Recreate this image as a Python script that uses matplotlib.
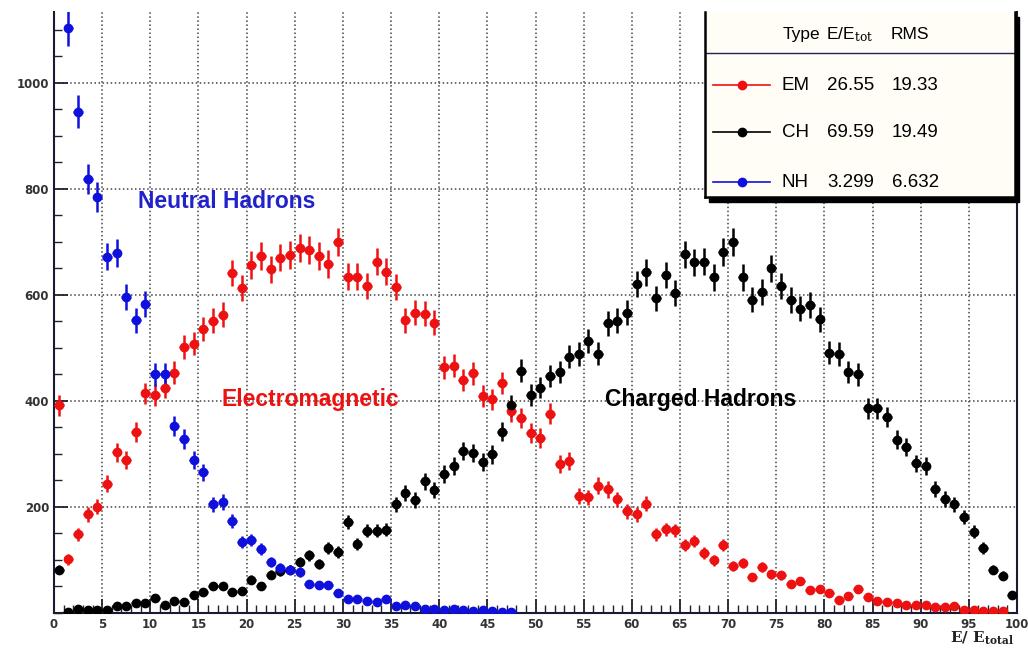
import numpy as np
import matplotlib
matplotlib.use("Agg")
import matplotlib.pyplot as plt
from matplotlib.patches import Rectangle

# energy fraction histograms, 100 bins of width 1 from 0 to 100
bin_width = 1.0

em_counts = [392, 101, 148, 186, 200, 244, 303, 289, 341, 414,
             411, 425, 453, 502, 508, 535, 551, 562, 641, 612,
             656, 673, 648, 670, 675, 688, 684, 673, 658, 700,
             634, 634, 616, 662, 643, 615, 552, 566, 564, 547,
             463, 466, 439, 452, 409, 403, 433, 380, 368, 339,
             330, 376, 281, 286, 221, 218, 240, 233, 214, 192,
             186, 206, 148, 158, 156, 128, 136, 113, 99, 128,
             88, 94, 68, 87, 73, 71, 54, 60, 44, 46,
             38, 25, 32, 46, 31, 23, 21, 18, 16, 15,
             16, 11, 11, 13, 6, 5, 3, 3, 3]

ch_counts = [82, 2, 8, 5, 5, 6, 13, 13, 18, 19,
             28, 16, 22, 21, 33, 40, 51, 50, 40, 42,
             63, 51, 72, 79, 82, 96, 109, 93, 122, 115,
             172, 130, 155, 155, 157, 205, 227, 213, 248, 232,
             262, 277, 305, 302, 285, 299, 342, 392, 457, 411,
             425, 447, 454, 483, 488, 513, 489, 546, 551, 566,
             620, 642, 593, 637, 604, 676, 661, 662, 633, 681,
             700, 633, 591, 605, 650, 616, 590, 574, 581, 554,
             491, 488, 454, 450, 386, 386, 370, 327, 313, 282,
             277, 234, 215, 205, 181, 153, 122, 82, 70, 33]

# first NH bin is off the top of the plot
nh_counts = [np.nan, 1102, 945, 818, 784, 672, 679, 596, 552, 582,
             450, 450, 353, 328, 288, 265, 205, 209, 174, 134,
             138, 121, 96, 85, 82, 77, 54, 52, 52, 37,
             27, 27, 22, 20, 26, 13, 16, 13, 8, 8,
             6, 8, 5, 3, 6, 3, 2, 2]

legend_names = ["EM", "CH", "NH"]
legend_mean = ["26.55", "69.59", "3.299"]
legend_rms = ["19.33", "19.49", "6.632"]
colors = ["#ee1111", "black", "#1010dd"]

W, H = 1028, 654
fig = plt.figure(figsize=(W / 100, H / 100), dpi=100)
plt.rcParams['mathtext.fontset'] = 'dejavuserif'

# plot frame in pixels: x 54..1017, y 12..613
ax = fig.add_axes([54 / W, (H - 613) / H, (1017 - 54) / W, (613 - 12) / H])

series = [em_counts, ch_counts, nh_counts]
for counts, col in zip(series, colors):
    y = np.array(counts, dtype=float)
    x = (np.arange(len(y)) + 0.5) * bin_width
    ax.errorbar(x, y, xerr=bin_width / 2, yerr=np.sqrt(y), fmt='o', color=col,
                ms=6, elinewidth=1.8, capsize=0, zorder=3)

ax.set_xlim(0, 100)
ax.set_ylim(0, 1133)
ax.set_xticks(np.arange(0, 101, 5))
ax.set_xticks(np.arange(0, 101, 1), minor=True)
ax.set_yticks([200, 400, 600, 800, 1000])
ax.set_yticks(np.arange(0, 1133, 50), minor=True)
ax.tick_params(which='both', direction='in', colors='#222233', labelcolor='#333333')
ax.tick_params(which='major', length=10, width=1.3, labelsize=8.5)
ax.tick_params(which='minor', length=6, width=1)
for lab in ax.get_xticklabels() + ax.get_yticklabels():
    lab.set_fontweight('bold')
ax.grid(True, which='major', linestyle=':', color='#444444', linewidth=1.1)
ax.spines['top'].set_visible(False)
for s in ['left', 'bottom', 'right']:
    ax.spines[s].set_color('#1a1a33')
    ax.spines[s].set_linewidth(1.5)

# curve labels
ax.text(17.9, 775, "Neutral Hadrons", color='#2222cc', fontsize=16.5, fontweight='bold',
        family='Liberation Sans', ha='center', va='center')
ax.text(26.6, 402, "Electromagnetic", color='#ee1111', fontsize=16.5, fontweight='bold',
        family='Liberation Sans', ha='center', va='center')
ax.text(67.1, 402, "Charged Hadrons", color='black', fontsize=16.5, fontweight='bold',
        family='Liberation Sans', ha='center', va='center')

# axis title
fig.text(1014 / W, (H - 638) / H, r"E/ E$_{\mathbf{total}}$", family='DejaVu Serif',
         fontweight='bold', fontsize=11, ha='right', va='center', color='#222222')

# legend box with shadow
lx0, lx1, ly0, ly1 = 705, 1015, 12, 197
fig.patches.append(Rectangle(((lx0 + 4) / W, (H - ly1 - 5) / H), (lx1 - lx0) / W, (ly1 - ly0) / H,
                             transform=fig.transFigure, color='black', zorder=5))
lax = fig.add_axes([lx0 / W, (H - ly1) / H, (lx1 - lx0) / W, (ly1 - ly0) / H], zorder=6)
lax.set_facecolor('#fffdf5')
lax.set_xlim(0, 1)
lax.set_ylim(0, 1)
lax.set_xticks([])
lax.set_yticks([])
lax.spines['top'].set_visible(False)
for s in ['left', 'bottom', 'right']:
    lax.spines[s].set_linewidth(1.8)

# header row
lax.text(0.252, 0.88, "Type", family='Liberation Sans', fontsize=12.5, va='center')
lax.text(0.39, 0.88, r"E/E$_{\rm tot}$", family='Liberation Sans', fontsize=12.5, va='center')
lax.text(0.6, 0.88, "RMS", family='Liberation Sans', fontsize=12.5, va='center')
lax.plot([0, 1], [0.778, 0.778], color='#222255', lw=1)

rows_y = [0.605, 0.351, 0.081]
for name, m, r, col, yy in zip(legend_names, legend_mean, legend_rms, colors, rows_y):
    lax.plot([0.026, 0.21], [yy, yy], color=col, lw=1.2)
    lax.plot([0.118], [yy], 'o', color=col, ms=6)
    lax.text(0.248, yy, name, family='Liberation Sans', fontsize=13.5, va='center')
    lax.text(0.394, yy, m, family='Liberation Sans', fontsize=13.5, va='center')
    lax.text(0.603, yy, r, family='Liberation Sans', fontsize=13.5, va='center')

fig.savefig("out.png", dpi=100)
